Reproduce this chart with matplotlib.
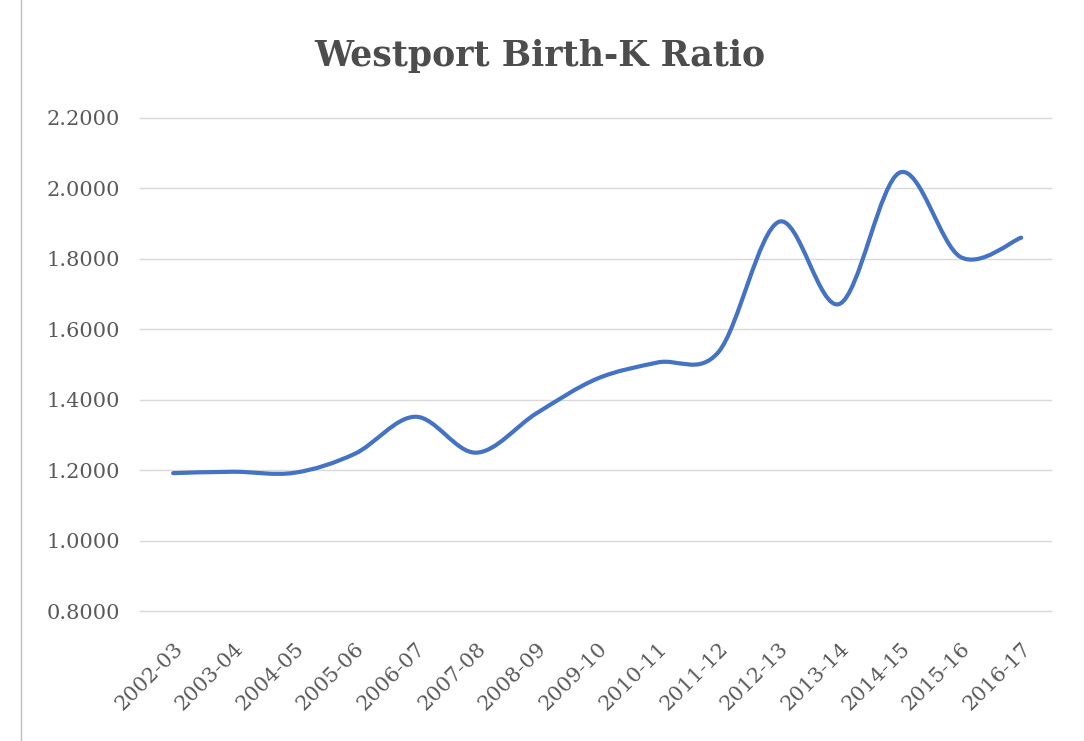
import matplotlib
matplotlib.use("Agg")
import matplotlib.pyplot as plt
from matplotlib.path import Path
from matplotlib.patches import PathPatch
from matplotlib.lines import Line2D
from matplotlib.ticker import FormatStrFormatter

# data
years = ["2002-03", "2003-04", "2004-05", "2005-06", "2006-07", "2007-08",
         "2008-09", "2009-10", "2010-11", "2011-12", "2012-13", "2013-14",
         "2014-15", "2015-16", "2016-17"]
ratio = [1.192, 1.196, 1.193, 1.247, 1.352, 1.250, 1.362, 1.460, 1.506,
         1.535, 1.905, 1.672, 2.045, 1.805, 1.860]

line_color = "#4472C4"
text_color = "#595959"

def smooth_path(xs, ys):
    # excel style smoothed line: cubic bezier through each point
    pts = list(zip(xs, ys))
    n = len(pts)
    verts = [pts[0]]
    codes = [Path.MOVETO]
    for i in range(n - 1):
        p0 = pts[max(i - 1, 0)]
        p1 = pts[i]
        p2 = pts[i + 1]
        p3 = pts[min(i + 2, n - 1)]
        c1 = (p1[0] + (p2[0] - p0[0]) / 6, p1[1] + (p2[1] - p0[1]) / 6)
        c2 = (p2[0] - (p3[0] - p1[0]) / 6, p2[1] - (p3[1] - p1[1]) / 6)
        verts += [c1, c2, p2]
        codes += [Path.CURVE4] * 3
    return Path(verts, codes)

fig = plt.figure(figsize=(10.84, 7.41), dpi=100)
ax = fig.add_axes([0.129, 0.175, 0.841, 0.666])

x = list(range(len(years)))
ax.add_patch(PathPatch(smooth_path(x, ratio), fill=False, edgecolor=line_color,
                       linewidth=3.0, capstyle="round", joinstyle="round", zorder=3))

ax.set_xlim(-0.55, len(years) - 0.5)
ax.set_ylim(0.8, 2.2)
ax.set_yticks([0.8, 1.0, 1.2, 1.4, 1.6, 1.8, 2.0, 2.2])
ax.yaxis.set_major_formatter(FormatStrFormatter("%.4f"))
ax.set_xticks(x)
ax.set_xticklabels(years, rotation=45, ha="right", rotation_mode="anchor")

ax.grid(axis="y", color="#d9d9d9", linewidth=1.0)
for gl in ax.get_ygridlines():
    gl.set_clip_on(False)
ax.set_axisbelow(True)
for s in ax.spines.values():
    s.set_visible(False)
ax.tick_params(length=0, labelsize=15, labelcolor=text_color)
ax.tick_params(axis="x", pad=20)
ax.tick_params(axis="y", pad=14)
for lbl in ax.get_xticklabels() + ax.get_yticklabels():
    lbl.set_family("DejaVu Serif")

fig.text(0.498, 0.925, "Westport Birth-K Ratio", ha="center", va="center",
         fontsize=25, fontweight="bold", color="#4d4d4d", family="DejaVu Serif")

# thin border at the left edge of the image
fig.add_artist(Line2D([0.019, 0.019], [0, 1], color="#bfbfbf", linewidth=1.0,
                      transform=fig.transFigure))

fig.savefig("out.png", dpi=100)
